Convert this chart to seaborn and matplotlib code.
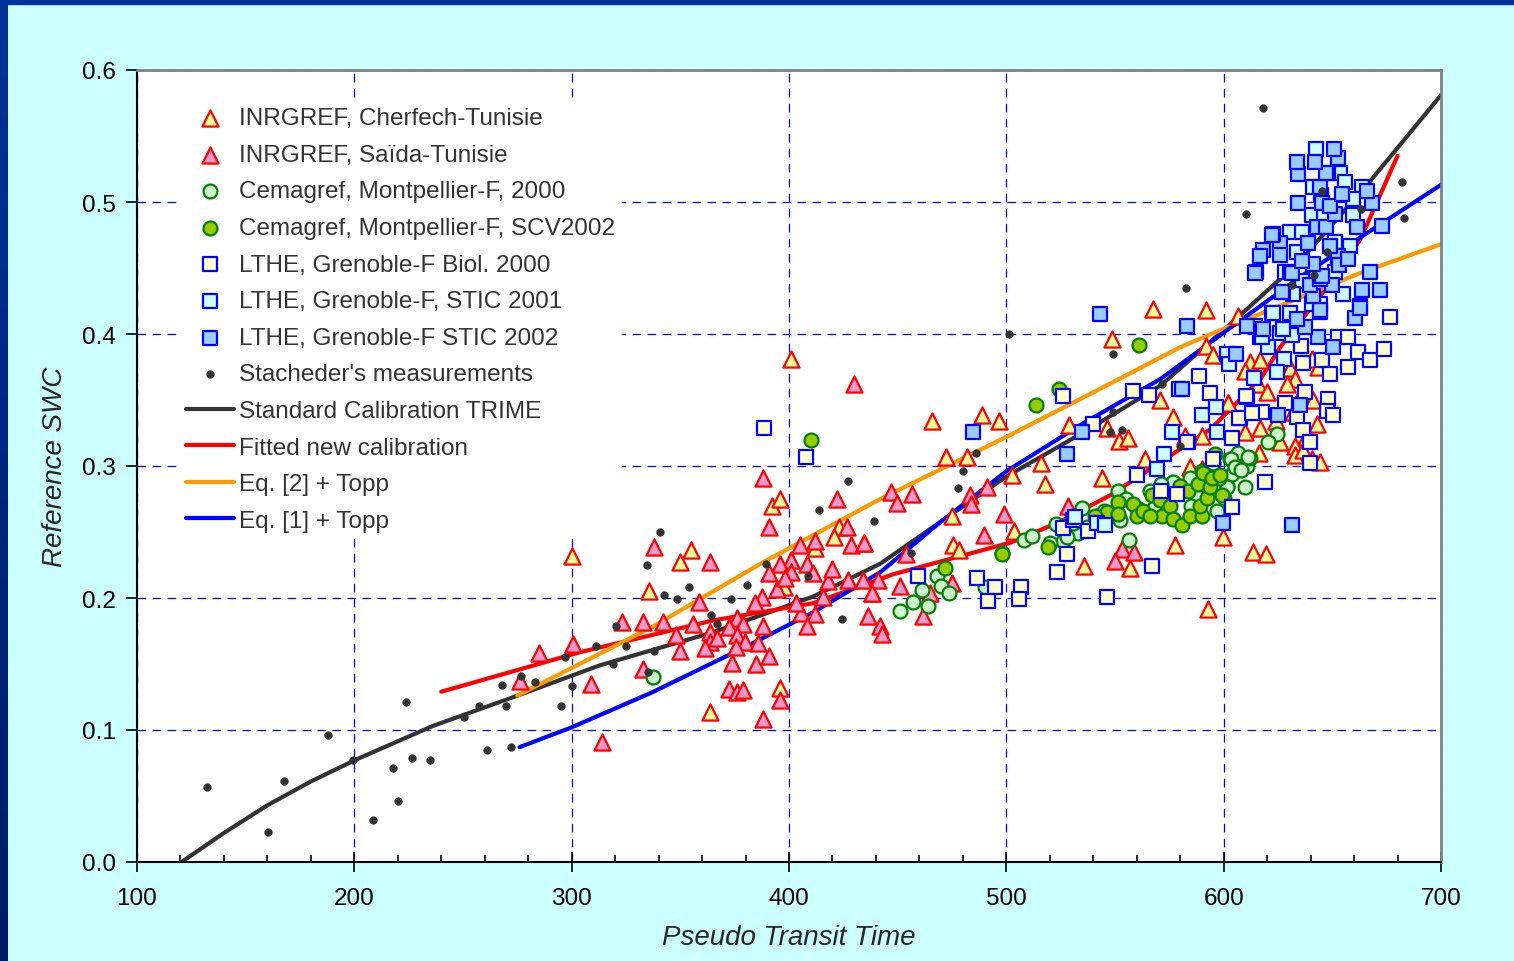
import numpy as np
import matplotlib
matplotlib.use("Agg")
import matplotlib.pyplot as plt
from matplotlib.patches import Rectangle
from matplotlib.colors import LinearSegmentedColormap
from matplotlib.ticker import MultipleLocator, FormatStrFormatter
import seaborn as sns

# ---------------------------------------------------------------- data
cherfech_x = [400.9, 300.0, 354.8, 349.9, 335.7, 392.0, 395.9, 423.2, 420.7, 412.0, 397.9, 395.9, 363.8,
              465.9, 489.0, 496.8, 472.1, 481.7, 475.1, 475.3, 502.8, 503.7, 515.8, 517.8, 528.8, 546.5,
              551.8, 555.9, 543.9, 563.8, 570.7, 584.5, 576.8, 589.9, 609.8, 613.6, 619.6, 599.5, 592.9,
              577.6, 535.7, 556.9, 601.8, 548.6, 567.5, 591.9, 606.7, 591.9, 595.0, 612.1, 616.7, 615.9,
              630.5, 632.8, 629.0, 640.5, 643.6, 602.2, 641.2, 642.8, 632.0, 582.2, 616.7, 625.9, 632.8,
              632.8, 636.6, 640.5, 644.3, 616.4, 589.9, 620.0, 634.0, 638.0, 624.0, 478.0, 610.0]
cherfech_y = [0.381, 0.232, 0.236, 0.227, 0.205, 0.270, 0.275, 0.254, 0.246, 0.238, 0.208, 0.132, 0.114,
              0.334, 0.339, 0.334, 0.307, 0.307, 0.262, 0.240, 0.293, 0.251, 0.302, 0.286, 0.331, 0.329,
              0.319, 0.321, 0.291, 0.305, 0.350, 0.299, 0.337, 0.323, 0.326, 0.235, 0.233, 0.246, 0.192,
              0.240, 0.224, 0.223, 0.348, 0.396, 0.419, 0.418, 0.414, 0.391, 0.384, 0.379, 0.380, 0.362,
              0.374, 0.366, 0.362, 0.381, 0.375, 0.348, 0.350, 0.332, 0.341, 0.323, 0.329, 0.318, 0.315,
              0.308, 0.312, 0.305, 0.303, 0.310, 0.298, 0.356, 0.350, 0.322, 0.334, 0.236, 0.372]

saida_x = [430.0, 387.9, 391.0, 421.9, 426.8, 428.7, 434.7, 337.9, 363.8, 405.0, 411.8, 400.9, 395.9,
           408.1, 390.7, 400.8, 411.2, 418.1, 427.3, 434.2, 438.0, 358.7, 387.4, 394.3, 384.3, 405.4,
           412.0, 408.1, 415.8, 375.9, 372.5, 379.0, 387.9, 356.0, 363.7, 363.7, 361.4, 375.9, 379.8,
           385.9, 375.6, 373.6, 384.8, 390.7, 348.0, 349.9, 341.9, 333.0, 323.0, 300.8, 285.0, 276.2,
           308.8, 332.7, 313.8, 372.5, 375.9, 379.0, 395.9, 387.9, 447.0, 449.6, 456.8, 483.3, 483.7,
           491.0, 498.9, 489.7, 434.7, 453.7, 441.1, 451.1, 438.0, 464.9, 474.8, 461.8, 436.5, 441.9,
           442.6, 528.5, 553.1, 558.7, 550.0, 398.0, 403.0, 420.0, 367.0]
saida_y = [0.362, 0.291, 0.254, 0.275, 0.254, 0.240, 0.242, 0.239, 0.227, 0.240, 0.243, 0.229, 0.226,
           0.226, 0.219, 0.220, 0.219, 0.213, 0.214, 0.214, 0.204, 0.197, 0.201, 0.207, 0.196, 0.189,
           0.188, 0.179, 0.201, 0.185, 0.178, 0.180, 0.179, 0.180, 0.174, 0.167, 0.162, 0.172, 0.167,
           0.166, 0.163, 0.151, 0.150, 0.156, 0.172, 0.160, 0.182, 0.182, 0.182, 0.165, 0.158, 0.137,
           0.135, 0.146, 0.091, 0.131, 0.129, 0.130, 0.123, 0.108, 0.280, 0.272, 0.279, 0.278, 0.271,
           0.284, 0.264, 0.248, 0.242, 0.233, 0.214, 0.209, 0.204, 0.204, 0.211, 0.186, 0.186, 0.179,
           0.173, 0.270, 0.237, 0.235, 0.228, 0.215, 0.196, 0.222, 0.170]

cem2000_x = [337.6, 451.1, 457.2, 464.1, 461.1, 468.3, 469.9, 473.6, 490.2, 508.3, 526.2, 533.1, 530.8,
             541.6, 552.3, 556.6, 551.5, 566.1, 576.8, 584.5, 587.6, 596.8, 601.4, 602.9, 606.7, 610.6,
             612.1, 609.8, 624.4, 620.5, 611.3, 603.7, 603.5, 601.4, 555.0, 560.0, 571.0, 580.0, 590.0,
             595.0, 598.0, 605.0, 608.0, 600.0, 593.0, 585.0, 568.0, 545.0, 537.0, 528.0, 520.0, 512.0,
             523.0, 535.0]
cem2000_y = [0.140, 0.190, 0.197, 0.194, 0.206, 0.217, 0.209, 0.204, 0.208, 0.244, 0.243, 0.249, 0.257,
             0.262, 0.259, 0.244, 0.281, 0.281, 0.288, 0.291, 0.278, 0.266, 0.285, 0.305, 0.310, 0.300,
             0.306, 0.284, 0.324, 0.318, 0.307, 0.294, 0.305, 0.284, 0.275, 0.268, 0.286, 0.281, 0.296,
             0.302, 0.291, 0.299, 0.297, 0.276, 0.284, 0.270, 0.268, 0.266, 0.254, 0.246, 0.242, 0.247,
             0.256, 0.268]

cemscv_x = [524.4, 513.5, 471.8, 497.8, 497.8, 519.3, 410.1, 561.0, 546.2, 551.5, 551.5, 558.4, 560.0,
            563.0, 566.9, 570.7, 571.4, 566.1, 575.3, 576.8, 579.9, 580.7, 584.5, 583.7, 588.3, 589.9,
            589.1, 592.2, 590.6, 593.7, 594.5, 598.3, 599.1, 596.0, 541.0]
cemscv_y = [0.358, 0.346, 0.223, 0.234, 0.233, 0.239, 0.320, 0.392, 0.265, 0.273, 0.264, 0.271, 0.262,
            0.266, 0.278, 0.274, 0.262, 0.262, 0.270, 0.260, 0.285, 0.255, 0.262, 0.281, 0.286, 0.262,
            0.270, 0.276, 0.295, 0.284, 0.291, 0.293, 0.278, 0.309, 0.262]

biol_x = [558.4, 565.6, 579.6, 593.7, 525.9, 540.0, 583.7, 603.7, 594.9, 607.5, 610.6, 560.0, 571.2,
          578.4, 603.7, 537.7, 525.9, 530.8, 528.1, 523.2, 566.9, 546.2, 459.5, 486.7, 494.8, 491.6,
          506.8, 505.8, 388.6, 407.8, 676.5, 635.5, 652.8, 657.0, 662.0, 667.3, 657.4, 673.8, 636.4,
          645.1, 649.0, 588.7, 610.3, 628.2, 637.4, 648.2, 617.5, 633.6, 647.4, 650.5, 607.2, 636.6,
          583.0, 639.7, 619.0, 639.7, 613.0]
biol_y = [0.357, 0.354, 0.358, 0.355, 0.353, 0.332, 0.318, 0.321, 0.305, 0.336, 0.352, 0.293, 0.281,
          0.279, 0.269, 0.251, 0.253, 0.259, 0.233, 0.220, 0.224, 0.201, 0.217, 0.215, 0.208, 0.198,
          0.208, 0.199, 0.329, 0.307, 0.413, 0.391, 0.398, 0.398, 0.386, 0.380, 0.375, 0.389, 0.378,
          0.380, 0.370, 0.368, 0.353, 0.348, 0.356, 0.351, 0.341, 0.337, 0.342, 0.339, 0.336, 0.327,
          0.318, 0.318, 0.288, 0.302, 0.340]

stic01_x = [576.1, 569.2, 572.6, 589.9, 596.5, 597.1, 541.6, 545.4, 531.6, 614.4, 622.1, 625.9, 631.3,
            616.7, 620.5, 601.4, 602.6, 627.8, 624.4, 614.0, 642.5, 653.6, 648.2, 641.3, 663.5, 659.6,
            640.5, 646.0, 659.6, 630.5, 636.0, 658.1, 633.6, 651.4, 628.0, 635.9, 632.1, 644.3, 640.5,
            622.9, 630.5, 627.5, 617.5, 655.0, 651.0, 645.0, 656.0]
stic01_y = [0.326, 0.298, 0.309, 0.339, 0.345, 0.326, 0.257, 0.255, 0.261, 0.406, 0.416, 0.401, 0.399,
            0.398, 0.390, 0.385, 0.377, 0.381, 0.371, 0.367, 0.540, 0.522, 0.522, 0.511, 0.511, 0.502,
            0.490, 0.490, 0.490, 0.477, 0.477, 0.467, 0.462, 0.447, 0.447, 0.440, 0.430, 0.423, 0.423,
            0.416, 0.416, 0.404, 0.398, 0.430, 0.470, 0.505, 0.515]

stic02_x = [484.8, 534.7, 528.1, 599.5, 543.1, 583.0, 610.6, 631.5, 580.7, 605.7, 650.5, 625.2, 635.1,
            643.6, 644.3, 662.7, 660.4, 637.4, 633.6, 672.0, 663.5, 667.3, 672.7, 644.3, 641.2, 639.7,
            649.7, 644.3, 627.5, 645.1, 641.2, 630.5, 615.1, 614.4, 652.8, 649.0, 639.0, 625.9, 618.2,
            616.7, 622.9, 622.1, 661.2, 642.8, 647.0, 651.4, 634.1, 645.1, 649.0, 668.1, 665.8, 654.3,
            644.3, 634.1, 647.0, 652.8, 642.0, 633.6, 650.9, 626.7, 631.3, 653.0, 657.0, 636.0, 626.0,
            618.0, 662.7]
stic02_y = [0.326, 0.326, 0.309, 0.257, 0.415, 0.406, 0.406, 0.255, 0.358, 0.385, 0.390, 0.339, 0.346,
            0.398, 0.417, 0.421, 0.412, 0.405, 0.411, 0.433, 0.433, 0.447, 0.482, 0.418, 0.429, 0.437,
            0.437, 0.442, 0.432, 0.444, 0.453, 0.447, 0.447, 0.446, 0.459, 0.467, 0.469, 0.469, 0.464,
            0.459, 0.476, 0.475, 0.481, 0.481, 0.481, 0.491, 0.499, 0.499, 0.497, 0.499, 0.508, 0.506,
            0.511, 0.521, 0.522, 0.533, 0.530, 0.530, 0.540, 0.432, 0.446, 0.452, 0.457, 0.455, 0.460,
            0.404, 0.420]

stach_x = [132.1, 160.4, 167.8, 188.0, 199.5, 208.7, 217.6, 220.2, 223.6, 226.5, 234.8, 250.5, 257.4,
           260.9, 267.8, 269.6, 272.0, 276.5, 283.3, 295.3, 297.1, 300.3, 311.0, 320.3, 324.8, 319.2,
           334.8, 340.6, 342.6, 337.9, 348.3, 353.8, 335.3, 364.3, 367.0, 373.2, 380.5, 389.3, 408.9,
           413.6, 424.4, 427.2, 439.3, 486.0, 480.2, 477.8, 456.1, 549.2, 547.7, 553.2, 571.5, 579.9,
           501.2, 549.0, 582.5, 610.3, 618.2, 681.9, 683.1, 645.4, 663.3, 647.4, 641.7, 631.6]
stach_y = [0.057, 0.023, 0.061, 0.096, 0.077, 0.032, 0.071, 0.046, 0.121, 0.079, 0.077, 0.110, 0.118,
           0.085, 0.134, 0.118, 0.087, 0.141, 0.136, 0.118, 0.155, 0.133, 0.164, 0.179, 0.164, 0.150,
           0.225, 0.250, 0.202, 0.160, 0.199, 0.208, 0.144, 0.187, 0.180, 0.199, 0.210, 0.226, 0.217,
           0.267, 0.184, 0.289, 0.258, 0.310, 0.296, 0.283, 0.234, 0.341, 0.326, 0.327, 0.362, 0.315,
           0.400, 0.385, 0.435, 0.491, 0.571, 0.515, 0.488, 0.508, 0.495, 0.462, 0.445, 0.437]

trime_x = [120.5, 140, 160, 180, 200, 236, 275, 313, 365, 411, 442, 470, 500, 535, 571, 600, 635, 667, 700]
trime_y = [0.000, 0.022, 0.043, 0.061, 0.077, 0.103, 0.126, 0.149, 0.174, 0.201, 0.226, 0.258, 0.292,
           0.325, 0.361, 0.403, 0.455, 0.515, 0.581]

fitted_x = [240, 304, 365, 411, 448, 502, 525, 548, 571, 594, 617, 626, 645, 663, 680]
fitted_y = [0.129, 0.159, 0.183, 0.196, 0.218, 0.242, 0.258, 0.278, 0.303, 0.328, 0.366, 0.390, 0.430,
            0.472, 0.535]

eq2_x = [275, 337, 388, 442, 500, 552, 580, 600, 664, 700]
eq2_y = [0.126, 0.178, 0.227, 0.275, 0.322, 0.366, 0.390, 0.404, 0.447, 0.468]

eq1_x = [276, 300, 337, 380, 411, 442, 470, 500, 535, 571, 600, 635, 672, 700]
eq1_y = [0.087, 0.102, 0.1285, 0.163, 0.189, 0.2195, 0.258, 0.296, 0.332, 0.366, 0.401, 0.443, 0.483, 0.513]

labels = ["INRGREF, Cherfech-Tunisie", "INRGREF, Saïda-Tunisie",
          "Cemagref, Montpellier-F, 2000", "Cemagref, Montpellier-F, SCV2002",
          "LTHE, Grenoble-F Biol. 2000", "LTHE, Grenoble-F, STIC 2001", "LTHE, Grenoble-F STIC 2002",
          "Stacheder's measurements", "Standard Calibration TRIME", "Fitted new calibration",
          "Eq. [2] + Topp", "Eq. [1] + Topp"]

# ---------------------------------------------------------------- figure
sns.set_style("white")
plt.rcParams['font.family'] = ['Liberation Sans', 'DejaVu Sans']

W, H = 1514, 962
fig = plt.figure(figsize=(W / 100, H / 100), dpi=100, facecolor='#ccffff')

# dark blue frame on the top and left edges
fig.patches.append(Rectangle((0, 1 - 5 / H), 1, 5 / H, transform=fig.transFigure,
                             color='#003399', zorder=0))
edge_ax = fig.add_axes([0, 0, 8 / W, 1])
edge_cmap = LinearSegmentedColormap.from_list("edge", ['#003399', '#001a66'])
edge_ax.imshow(np.linspace(0, 1, 256).reshape(-1, 1), aspect='auto', cmap=edge_cmap)
edge_ax.axis('off')

ax = fig.add_axes([137 / W, 1 - 863 / H, 1304 / W, 792 / H])
ax.set_facecolor('white')

# ---------------------------------------------------------------- markers
scatter_specs = [
    (cherfech_x, cherfech_y, '^', 135, '#ffff99', '#ff0000'),
    (saida_x, saida_y, '^', 135, '#ff99cc', '#ff0000'),
    (cem2000_x, cem2000_y, 'o', 100, '#ccffcc', '#008000'),
    (cemscv_x, cemscv_y, 'o', 100, '#99cc00', '#008000'),
    (biol_x, biol_y, 's', 105, '#ffffcc', '#0000ff'),
    (stic01_x, stic01_y, 's', 105, '#ccffff', '#0000ff'),
    (stic02_x, stic02_y, 's', 105, '#99ccff', '#0000ff'),
]
for i, (xs, ys, mk, size, fc, ec) in enumerate(scatter_specs):
    sns.scatterplot(x=xs, y=ys, marker=mk, s=size, color=fc, edgecolor=ec,
                    linewidth=1.6, ax=ax, label=labels[i], zorder=3 + i * 0.1)
sns.scatterplot(x=stach_x, y=stach_y, marker='o', s=36, color='#333333', linewidth=0,
                ax=ax, label=labels[7], zorder=4)

# ---------------------------------------------------------------- curves
line_specs = [(trime_x, trime_y, '#333333'), (fitted_x, fitted_y, '#ff0000'),
              (eq2_x, eq2_y, '#ff9900'), (eq1_x, eq1_y, '#0000ff')]
for j, (xs, ys, col) in enumerate(line_specs):
    sns.lineplot(x=xs, y=ys, color=col, linewidth=3, ax=ax, label=labels[8 + j],
                 sort=False, estimator=None, zorder=2.5)

# ---------------------------------------------------------------- axes styling
ax.set_xlim(100, 700)
ax.set_ylim(0, 0.6)
ax.set_xticks(np.arange(100, 701, 100))
ax.xaxis.set_minor_locator(MultipleLocator(20))
ax.set_yticks(np.arange(0, 0.61, 0.1))
ax.yaxis.set_major_formatter(FormatStrFormatter('%.1f'))

ax.grid(True, which='major', color='#0000ff', linestyle=(0, (7, 5)), linewidth=0.9)
ax.set_axisbelow(True)

ax.tick_params(axis='x', which='major', direction='inout', length=14, width=1.2,
               labelsize=17.5, pad=11, colors='black')
ax.tick_params(axis='x', which='minor', direction='in', length=5, width=1.2, colors='black')
ax.tick_params(axis='y', which='major', direction='out', length=8, width=1.2,
               labelsize=17.5, pad=7, colors='black')
ax.tick_params(bottom=True, left=True, which='both')
ax.tick_params(axis='y', which='minor', left=False)

for side in ('left', 'bottom'):
    ax.spines[side].set_color('black')
    ax.spines[side].set_linewidth(1.5)
for side in ('top', 'right'):
    ax.spines[side].set_color('#808080')
    ax.spines[side].set_linewidth(2)

ax.set_xlabel('Pseudo Transit Time', fontsize=20, style='italic', labelpad=11)
ax.set_ylabel('Reference SWC', fontsize=20, style='italic', labelpad=10)

handles, labs = ax.get_legend_handles_labels()
leg = ax.legend(handles, labs, loc='upper left', bbox_to_anchor=(42 / 1304, 1 - 30 / 792),
                fontsize=17.5, frameon=True, facecolor='white', edgecolor='none', framealpha=1,
                fancybox=False, borderpad=0.3, labelspacing=0.6, handlelength=1.95,
                handletextpad=0.22, borderaxespad=0, scatterpoints=1)
for t in leg.get_texts():
    t.set_color('#333333')

fig.savefig('out.png', dpi=100, facecolor=fig.get_facecolor())
